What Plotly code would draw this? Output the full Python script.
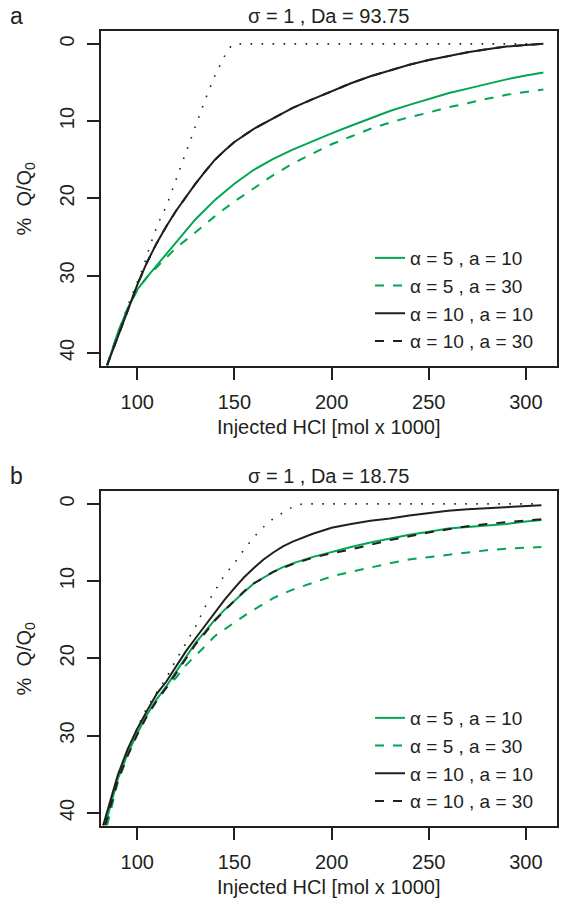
import plotly.graph_objects as go

# ---------------- data: panel a (sigma = 1, Da = 93.75) ----------------
a_g10_x = [84.5, 90, 95, 100, 105, 110, 115, 120, 125, 130, 140, 150, 160, 170, 180, 190, 200, 210, 220, 230, 240, 250, 260, 270, 280, 290, 300, 309]
a_g10_y = [41.6, 37.4, 34.3, 31.8, 30.2, 28.7, 27.1, 25.6, 24.1, 22.7, 20.2, 18.1, 16.3, 14.9, 13.7, 12.6, 11.6, 10.6, 9.6, 8.7, 7.9, 7.1, 6.4, 5.8, 5.2, 4.6, 4.1, 3.7]

a_g30_x = [84.5, 90, 95, 100, 105, 110, 120, 130, 140, 150, 160, 170, 180, 190, 200, 210, 220, 230, 240, 250, 260, 270, 280, 290, 300, 309]
a_g30_y = [41.6, 37.4, 34.3, 31.9, 30.2, 28.9, 26.4, 24.4, 22.3, 20.4, 18.7, 17.0, 15.5, 14.2, 13.0, 12.0, 11.0, 10.2, 9.5, 8.9, 8.2, 7.7, 7.1, 6.6, 6.2, 5.9]

a_k10_x = [84.5, 90, 95, 100, 105, 110, 115, 120, 125, 130, 135, 140, 145, 150, 160, 170, 180, 190, 200, 210, 220, 230, 240, 250, 260, 270, 280, 290, 300, 309]
a_k10_y = [41.6, 37.8, 34.6, 31.2, 28.3, 25.8, 23.6, 21.6, 19.8, 18.1, 16.5, 15.0, 13.8, 12.7, 11.0, 9.6, 8.3, 7.2, 6.1, 5.1, 4.2, 3.4, 2.7, 2.1, 1.6, 1.1, 0.7, 0.35, 0.15, 0.0]

a_k30_x = [84.5, 90, 95, 100, 105, 110, 115, 120, 125, 130, 135, 140, 145, 150, 160, 170, 180, 190, 200, 210, 220, 230, 240, 250, 260, 270, 280, 290, 300, 309]
a_k30_y = [41.6, 37.8, 34.6, 31.2, 28.3, 25.8, 23.6, 21.6, 19.8, 18.1, 16.5, 15.0, 13.8, 12.7, 11.0, 9.6, 8.3, 7.2, 6.1, 5.1, 4.2, 3.4, 2.7, 2.1, 1.6, 1.1, 0.7, 0.35, 0.15, 0.0]

a_ref_x = [84.5, 90, 95, 101, 103, 106.5, 110.3, 115, 120, 125, 130, 135, 140, 143, 145.5, 148, 150, 309]
a_ref_y = [41.6, 37.6, 34.0, 30.2, 29.0, 26.2, 23.5, 21.0, 17.5, 14.0, 10.6, 7.2, 4.1, 2.5, 1.3, 0.4, 0.0, 0.0]

# ---------------- data: panel b (sigma = 1, Da = 18.75) ----------------
b_g10_x = [83.5, 90, 95, 100, 105, 110, 115, 120, 125, 130, 135, 140, 145, 150, 155, 160, 165, 170, 175, 180, 190, 200, 210, 220, 230, 240, 250, 260, 270, 280, 290, 300, 308]
b_g10_y = [41.6, 35.6, 32.4, 29.7, 27.3, 25.3, 23.6, 21.7, 19.8, 18.0, 16.5, 15.0, 13.7, 12.5, 11.4, 10.3, 9.5, 8.8, 8.2, 7.7, 6.9, 6.2, 5.6, 5.0, 4.5, 4.0, 3.6, 3.2, 3.0, 2.8, 2.6, 2.3, 2.1]

b_g30_x = [84.5, 90, 95, 100, 105, 110, 115, 120, 125, 130, 135, 140, 145, 150, 155, 160, 170, 180, 190, 200, 210, 220, 230, 240, 250, 260, 270, 280, 290, 300, 308]
b_g30_y = [41.6, 36.0, 32.7, 29.6, 27.3, 25.4, 23.8, 22.5, 20.9, 19.7, 18.4, 17.1, 16.2, 15.3, 14.5, 13.7, 12.2, 11.1, 10.2, 9.4, 8.8, 8.2, 7.7, 7.2, 6.9, 6.6, 6.3, 6.0, 5.8, 5.7, 5.6]

b_k10_x = [82.5, 90, 95, 100, 105, 110, 115, 120, 125, 130, 135, 140, 145, 150, 155, 160, 165, 170, 175, 180, 190, 200, 210, 220, 230, 240, 250, 260, 270, 280, 290, 300, 308]
b_k10_y = [41.6, 35.1, 31.8, 29.1, 26.8, 24.6, 23.0, 21.0, 19.1, 17.4, 15.7, 14.0, 12.4, 10.9, 9.5, 8.3, 7.2, 6.3, 5.5, 4.9, 3.9, 3.1, 2.6, 2.2, 1.9, 1.5, 1.2, 0.9, 0.7, 0.55, 0.4, 0.3, 0.2]

b_k30_x = [83.5, 90, 95, 100, 105, 110, 115, 120, 125, 130, 135, 140, 145, 150, 155, 160, 165, 170, 175, 180, 190, 200, 210, 220, 230, 240, 250, 260, 270, 280, 290, 300, 308]
b_k30_y = [41.6, 35.8, 32.6, 29.9, 27.5, 25.5, 23.8, 21.9, 20.0, 18.2, 16.7, 15.1, 13.8, 12.5, 11.3, 10.3, 9.5, 8.8, 8.3, 7.8, 7.0, 6.4, 5.9, 5.3, 4.7, 4.2, 3.7, 3.3, 2.9, 2.6, 2.4, 2.2, 2.0]

b_ref_x = [82.5, 90, 95, 100, 105, 110, 115, 120, 125, 130, 135, 140, 145, 150, 155, 160, 165, 170, 175, 180, 185, 308]
b_ref_y = [41.6, 35.2, 31.9, 29.0, 26.4, 24.4, 22.5, 20.2, 18.0, 15.9, 13.3, 11.3, 9.2, 7.7, 5.9, 4.3, 3.0, 1.9, 1.1, 0.4, 0.0, 0.0]

series_names = ["α = 5 , a = 10", "α = 5 , a = 30", "α = 10 , a = 10", "α = 10 , a = 30"]
titles = ["σ = 1 , Da = 93.75", "σ = 1 , Da = 18.75"]
panel_letters = ["a", "b"]
x_ticks = [100, 150, 200, 250, 300]
y_ticks = [0, 10, 20, 30, 40]

GREEN = "#00a651"
BLACK = "#231f20"
FONT = "Liberation Sans, Arial, Helvetica, sans-serif"
FS = 20
LEG_FS = 19

styles = [(GREEN, "solid"), (GREEN, "9px,9px"), (BLACK, "solid"), (BLACK, "9px,9px")]

fig = go.Figure()

panels = [
    ("x", "y", "legend", [(a_g10_x, a_g10_y), (a_g30_x, a_g30_y), (a_k10_x, a_k10_y), (a_k30_x, a_k30_y)], (a_ref_x, a_ref_y)),
    ("x2", "y2", "legend2", [(b_g10_x, b_g10_y), (b_g30_x, b_g30_y), (b_k10_x, b_k10_y), (b_k30_x, b_k30_y)], (b_ref_x, b_ref_y)),
]

for xa, ya, lg, curves, ref in panels:
    fig.add_trace(go.Scatter(x=ref[0], y=ref[1], mode="lines", xaxis=xa, yaxis=ya,
                             line=dict(color=BLACK, width=1.6, dash="1.6px,9.4px"),
                             showlegend=False, hoverinfo="skip"))
    for (cx, cy), name, (col, dash) in zip(curves, series_names, styles):
        fig.add_trace(go.Scatter(x=cx, y=cy, mode="lines", name=name, xaxis=xa, yaxis=ya,
                                 legend=lg, line=dict(color=col, width=2, dash=dash)))

xdom = [100.7 / 565, 557 / 565]
H = 902
ydom_a = [1 - 366 / H, 1 - 31 / H]
ydom_b = [1 - 826 / H, 1 - 491 / H]

axis_common = dict(showline=True, linecolor=BLACK, linewidth=2, mirror=True,
                   ticks="outside", ticklen=12, tickwidth=2, tickcolor=BLACK,
                   showgrid=False, zeroline=False,
                   tickfont=dict(family=FONT, size=FS, color=BLACK))

xrng = [81.2, 316]
yrng = [41.7, -1.66]

leg_common = dict(xanchor="left", yanchor="top", font=dict(family=FONT, size=LEG_FS, color=BLACK),
                  bgcolor="rgba(0,0,0,0)", tracegroupgap=0, itemwidth=30)

fig.update_layout(
    width=565, height=902,
    margin=dict(l=0, r=0, t=0, b=0),
    paper_bgcolor="white", plot_bgcolor="white",
    font=dict(family=FONT, size=FS, color=BLACK),
    xaxis=dict(domain=xdom, range=xrng, tickvals=x_ticks, anchor="y", ticklabelstandoff=5, **axis_common),
    yaxis=dict(domain=ydom_a, range=yrng, tickvals=y_ticks, anchor="x", tickangle=-90, ticklabelstandoff=5, **axis_common),
    xaxis2=dict(domain=xdom, range=xrng, tickvals=x_ticks, anchor="y2", ticklabelstandoff=5, **axis_common),
    yaxis2=dict(domain=ydom_b, range=yrng, tickvals=y_ticks, anchor="x2", tickangle=-90, ticklabelstandoff=5, **axis_common),
    legend=dict(x=370 / 565, y=1 - 239 / H, **leg_common),
    legend2=dict(x=370 / 565, y=1 - 699 / H, **leg_common),
    showlegend=True,
)

annots = []
for title, letter, ytop, ymid, ybot in [(titles[0], panel_letters[0], 31, 198.5, 366), (titles[1], panel_letters[1], 491, 658.5, 826)]:
    annots.append(dict(text=title, x=(100.7 + 557) / 2 / 565, y=1 - (ytop - 15) / H, xref="paper", yref="paper",
                       showarrow=False, xanchor="center", yanchor="middle", font=dict(size=FS)))
    annots.append(dict(text=letter, x=16 / 565, y=1 - (ytop - 15) / H, xref="paper", yref="paper",
                       showarrow=False, xanchor="center", yanchor="middle", font=dict(size=23)))
    annots.append(dict(text="%  Q/Q<sub>0</sub>", x=25 / 565, y=1 - ymid / H, xref="paper", yref="paper",
                       showarrow=False, xanchor="center", yanchor="middle", textangle=-90, font=dict(size=FS)))
    annots.append(dict(text="Injected HCl [mol x 1000]", x=(100.7 + 557) / 2 / 565, y=1 - (ybot + 61) / H,
                       xref="paper", yref="paper", showarrow=False, xanchor="center", yanchor="middle",
                       font=dict(size=FS)))
fig.update_layout(annotations=annots)

fig.write_html("out.html")
